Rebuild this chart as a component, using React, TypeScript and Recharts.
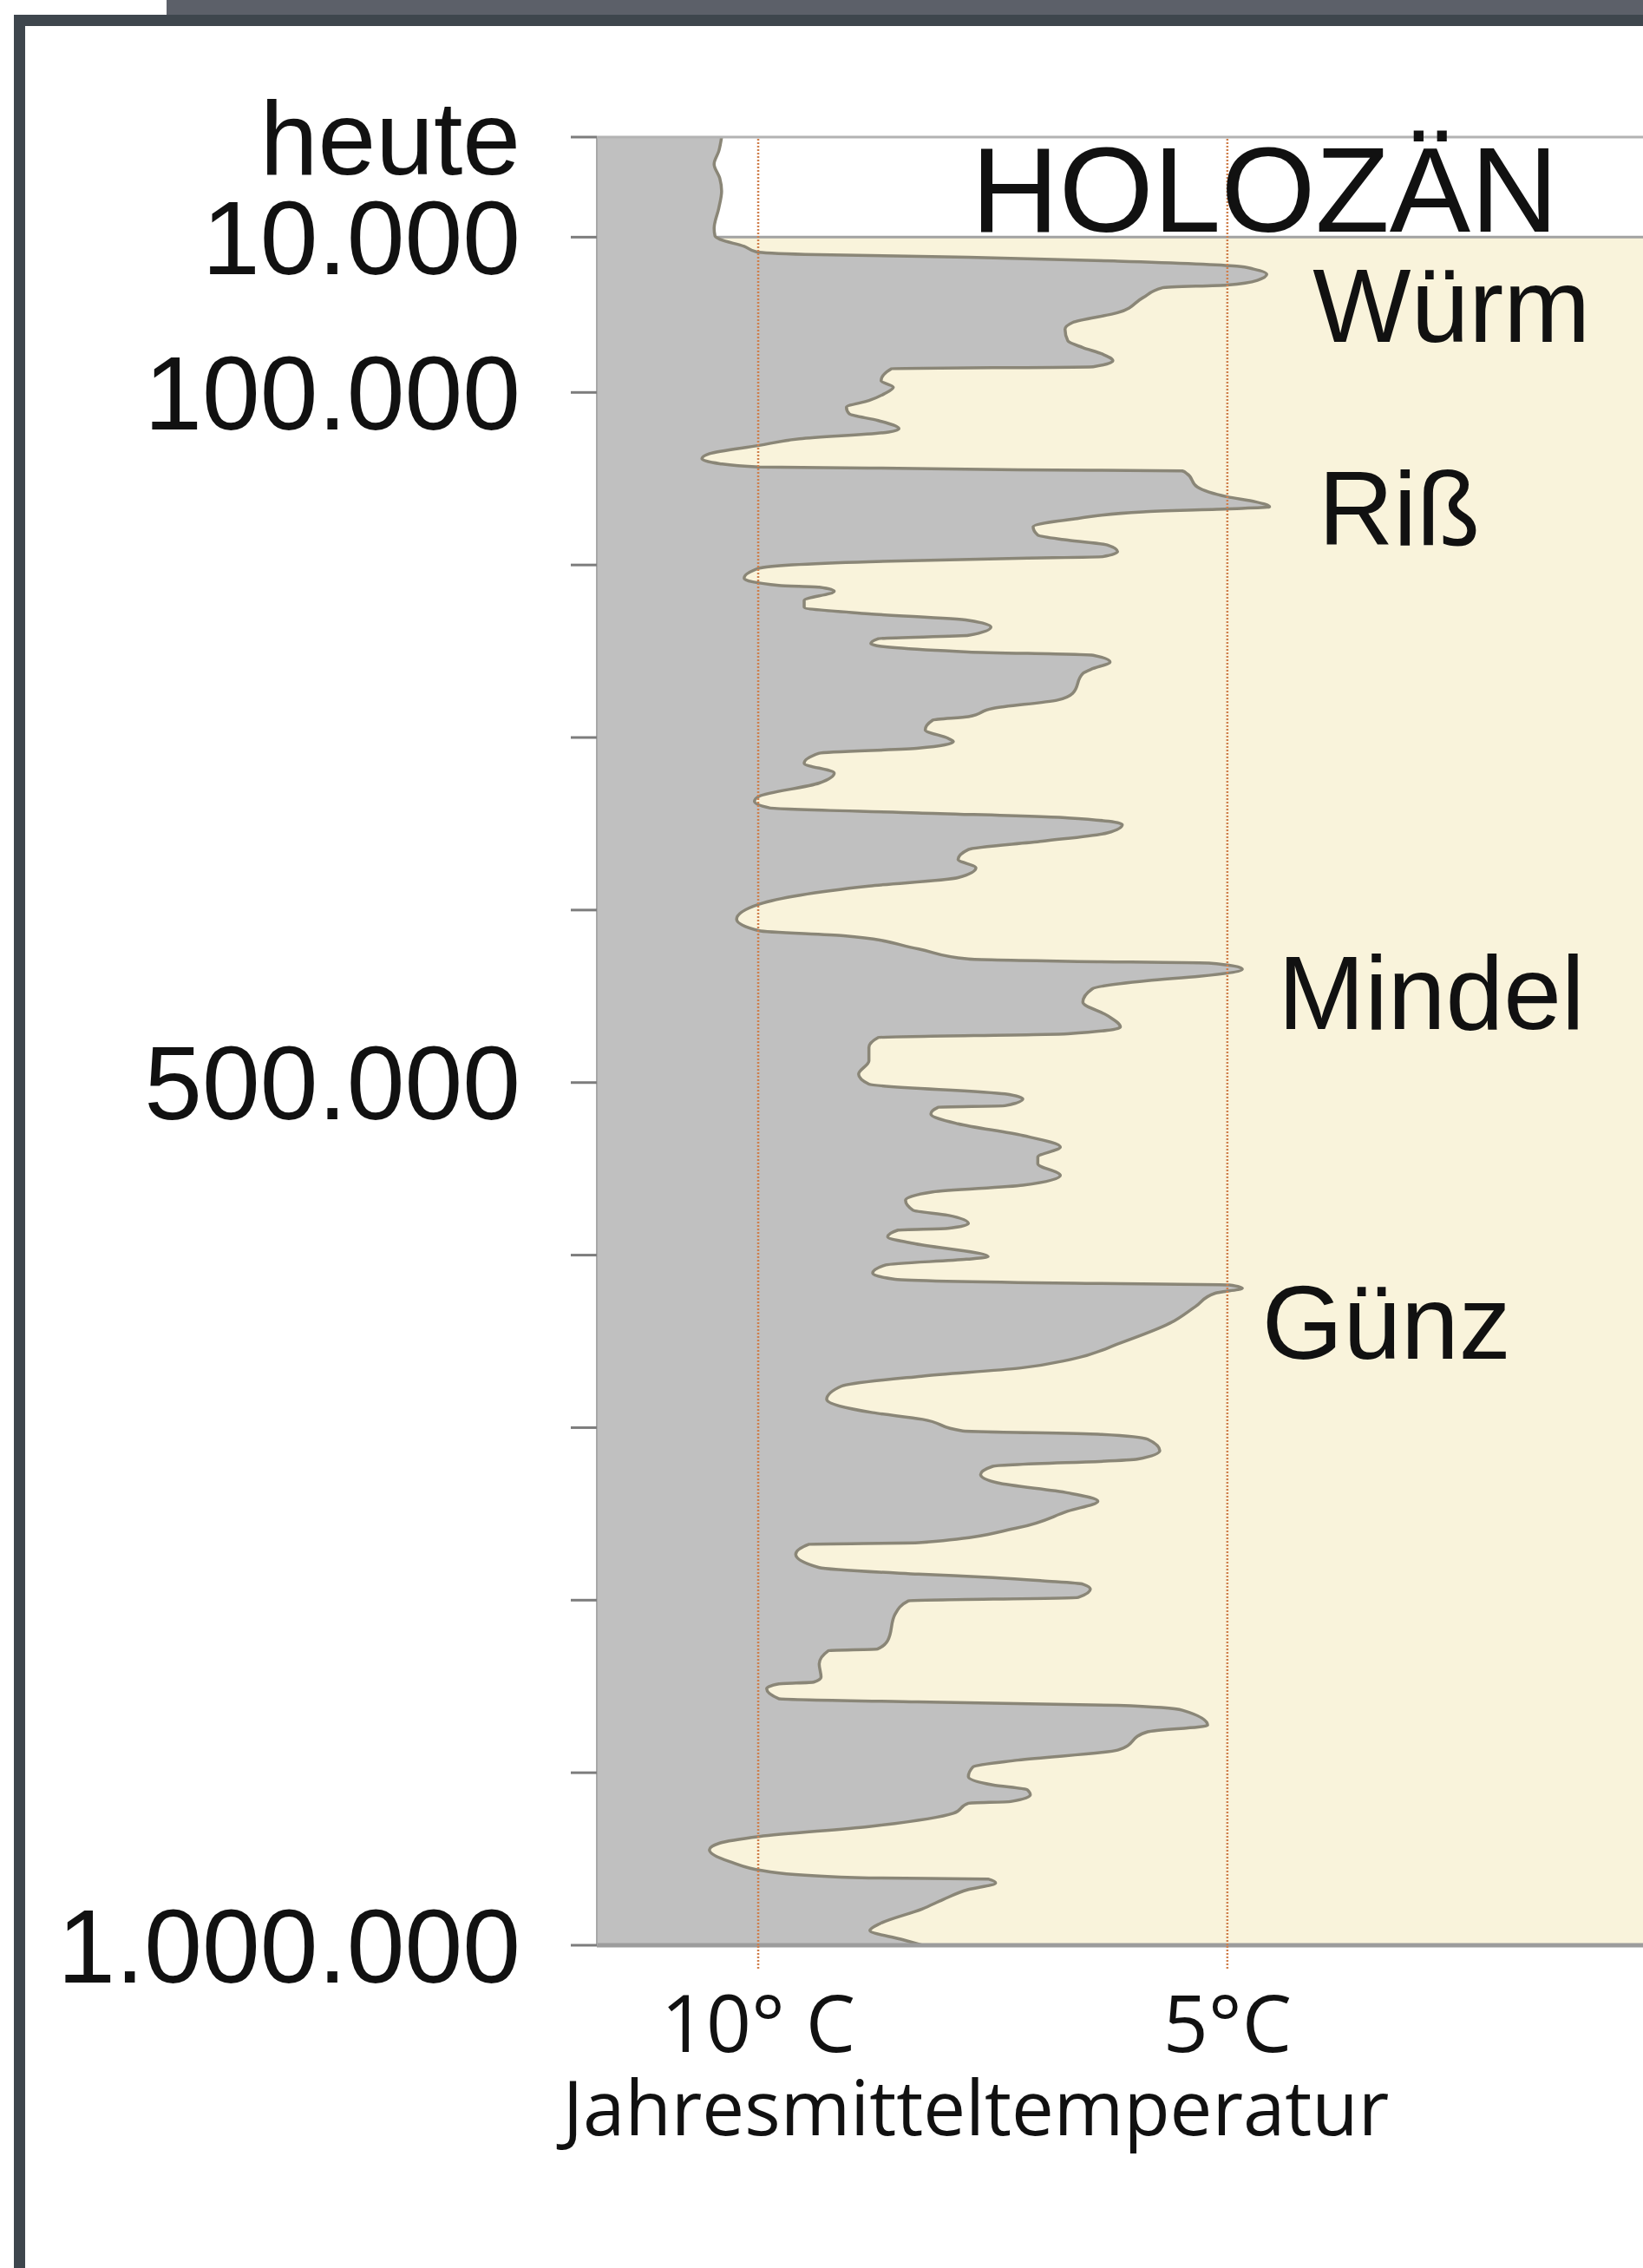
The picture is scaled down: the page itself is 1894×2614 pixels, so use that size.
import React from "react";
import {
  ComposedChart,
  Area,
  XAxis,
  YAxis,
  ReferenceArea,
  ReferenceLine,
  ReferenceDot,
} from "recharts";

// years before today
const ageYears = [
  0, 1400, 2700, 4100, 5400, 7100, 9100, 9900,
  11400, 15300, 18500, 20000, 21600, 23900, 26800, 28500, 31500, 35000, 37700, 39300,
  45100, 53800, 59500, 63400, 70100, 74000, 77800, 81700, 85100, 86300,
  93200, 97000, 100900, 104700, 108600, 112400, 116300, 121100, 123000, 126900,
  130700, 135500, 138400, 141300, 143200, 143800, 144800, 145500, 147100, 154800,
  160500, 163400, 166300, 167500, 169200, 173000, 177900, 182700, 185600, 188400,
  192300, 195200, 196100, 198100, 201900, 207700, 211900, 212900, 215200, 220600,
  224400, 228300, 232100, 236000, 240800, 242700, 245600, 250400, 252300, 256200,
  260000, 262900, 274500, 278300, 283100, 287900, 289900, 295600, 300400, 302400,
  306200, 309100, 314900, 320600, 326400, 334100, 337000, 340800, 343700, 346600,
  350500, 355300, 360100, 364900, 370700, 375500, 381200, 386100, 396600, 405300,
  412000, 414900, 422600, 428400, 429700, 430700, 434200, 438400, 440900, 445700,
  453400, 461100, 467800, 471700, 473900, 479700, 487400, 495100, 500900, 506600,
  509500, 513400, 514300, 518200, 523900, 530700, 537400, 543200, 547000, 553800,
  559500, 563400, 568200, 574000, 576900, 581700, 584500, 585500, 589400, 593200,
  600900, 602400, 605700, 610500, 614000, 616300, 617300, 619200, 622100, 629800,
  639400, 650900, 660500, 665400, 670200, 675900, 683600, 691300, 695200, 701900,
  703800, 706700, 713400, 718300, 722400, 727200, 732000, 737800, 742600, 748400,
  758000, 766700, 767600, 773400, 781100, 784900, 786900, 788800, 790700, 793600,
  798400, 800400, 808000, 823400, 828300, 829200, 836900, 844600, 847500, 848500,
  851300, 857100, 859000, 861000, 863800, 872500, 876300, 886900, 892700, 896600,
  902300, 907100, 910000, 912900, 916700, 917700, 923500, 931200, 937000, 940800,
  944700, 951400, 958100, 961000, 961600, 963900, 967700, 973500, 978900, 987400,
  991500, 996500, 1000000,
];

// Jahresmitteltemperatur in °C, same rows as ageYears
const meanTemp = [
  10.39, 10.42, 10.47, 10.41, 10.39, 10.42, 10.47, 10.46,
  10.4, 10.15, 10.02, 9.5, 7.76, 6.17, 4.9, 4.72, 4.58, 4.68, 5.0, 5.69,
  5.9, 6.17, 6.65, 6.73, 6.7, 6.54, 6.33, 6.22, 6.43, 8.58,
  8.69, 8.56, 8.66, 8.82, 9.06, 9.03, 8.72, 8.5, 8.61, 9.56,
  9.99, 10.52, 10.6, 10.41, 9.99, 8.82, 7.23, 5.48, 5.43, 5.32,
  5.0, 4.7, 4.55, 5.0, 5.9, 6.59, 7.07, 7.02, 6.7, 6.28,
  6.17, 6.33, 7.23, 8.82, 9.99, 10.15, 9.78, 9.35, 9.19, 9.51,
  9.51, 8.82, 7.76, 7.52, 7.76, 8.72, 8.8, 7.76, 6.43, 6.25,
  6.43, 6.54, 6.65, 6.81, 7.5, 7.76, 8.14, 8.22, 7.98, 7.92,
  8.29, 9.35, 9.51, 9.19, 9.35, 9.99, 10.04, 9.88, 8.3, 6.7,
  6.12, 6.28, 6.97, 7.76, 7.87, 7.68, 7.87, 8.82, 9.99, 10.23,
  9.99, 9.09, 8.29, 7.76, 6.7, 5.2, 4.84, 5.3, 5.85, 6.44,
  6.54, 6.28, 6.14, 6.7, 8.72, 8.82, 8.82, 8.93, 8.82, 7.37,
  7.18, 7.37, 8.08, 8.16, 7.87, 7.18, 6.78, 7.02, 7.02, 6.78,
  7.18, 8.14, 8.43, 8.35, 7.98, 7.76, 7.98, 8.51, 8.62, 8.35,
  7.55, 7.78, 8.64, 8.78, 8.54, 6.63, 4.98, 4.84, 5.13, 5.34,
  5.61, 6.14, 6.67, 7.2, 8.26, 9.11, 9.27, 8.78, 8.25, 7.82,
  6.38, 5.85, 5.72, 5.96, 7.5, 7.63, 7.45, 6.7, 6.38, 6.7,
  7.23, 8.29, 9.46, 9.6, 9.35, 8.29, 7.5, 6.97, 6.54, 6.46,
  6.59, 8.4, 8.54, 8.62, 8.73, 9.25, 9.35, 9.33, 9.41, 9.78,
  9.91, 9.78, 8.3, 6.17, 5.48, 5.21, 5.85, 6.17, 7.23, 7.71,
  7.76, 7.5, 7.13, 7.1, 7.31, 7.76, 7.92, 8.82, 9.99, 10.41,
  10.52, 10.31, 9.78, 8.82, 7.55, 7.47, 7.76, 8.03, 8.25, 8.7,
  8.81, 8.48, 8.25,
];

const yearTicks = [0, 10000, 100000, 200000, 300000, 400000, 500000, 600000, 700000, 800000, 900000, 1000000];
const yearTickLabels = ["heute", "10.000", "100.000", "", "", "", "500.000", "", "", "", "", "1.000.000"];

const tempTicks = [10, 5];
const tempTickLabels = ["10° C", "5°C"];

const periods = [
  { name: "HOLOZÄN", year: 5100, temp: 7.73, size: 140 },
  { name: "Würm", year: 49200, temp: 4.09, size: 120 },
  { name: "Riß", year: 166900, temp: 4.03, size: 120 },
  { name: "Mindel", year: 447400, temp: 4.46, size: 120 },
  { name: "Günz", year: 638500, temp: 4.63, size: 120 },
];

const HOLOCENE_END = 10000;
const OLDEST = 1000000;
const TEMP_LEFT = 11.72;
const TEMP_RIGHT = 0.57;

// the Holocene band is drawn stretched in the original figure
const HOLO_STRETCH = 5.8;
const depth = (yr: number) =>
  yr <= HOLOCENE_END ? yr * HOLO_STRETCH : HOLOCENE_END * HOLO_STRETCH + (yr - HOLOCENE_END);

const data = ageYears.map((y, i) => ({ depth: depth(y), temp: meanTemp[i] }));

const SANS = "'Liberation Sans', Arial, sans-serif";
const LABEL_FONT = "'Open Sans', 'Noto Sans', sans-serif";
const DOTTED = "#cf7f4c";

const yLabel = (v: number) => {
  const i = yearTicks.findIndex((t) => Math.abs(depth(t) - v) < 1);
  return i >= 0 ? yearTickLabels[i] : "";
};

const xLabel = (v: number) => {
  const i = tempTicks.indexOf(v);
  return i >= 0 ? tempTickLabels[i] : "";
};

const App = () => {
  return (
    <div
      style={{
        position: "absolute",
        left: 0,
        top: 0,
        width: 1894,
        height: 2614,
        overflow: "hidden",
        background: "#fff",
      }}
    >
      {/* page frame */}
      <div style={{ position: "absolute", left: 192, top: 0, width: 1702, height: 17, background: "#5c6069" }} />
      <div style={{ position: "absolute", left: 16, top: 17, width: 1878, height: 13, background: "#3e464d" }} />
      <div style={{ position: "absolute", left: 16, top: 17, width: 13, height: 2597, background: "#3e464d" }} />

      <div style={{ position: "absolute", left: 0, top: 0 }}>
        <ComposedChart
          layout="vertical"
          width={1894}
          height={2614}
          data={data}
          margin={{ top: 158, right: 0, bottom: 112, left: 0 }}
        >
          <ReferenceArea
            y1={depth(HOLOCENE_END)}
            y2={depth(OLDEST)}
            fill="#f9f3db"
            fillOpacity={1}
            stroke="none"
            zIndex={-60}
          />
          <ReferenceLine y={depth(HOLOCENE_END)} stroke="#a2a2a2" strokeWidth={3} zIndex={-50} />
          <XAxis
            type="number"
            domain={[TEMP_RIGHT, TEMP_LEFT]}
            reversed
            allowDataOverflow
            ticks={tempTicks}
            interval={0}
            tickFormatter={xLabel}
            height={260}
            tickSize={27}
            tickMargin={31}
            axisLine={{ stroke: "#9c9c9c", strokeWidth: 5 }}
            tickLine={{ stroke: DOTTED, strokeWidth: 2.5, strokeDasharray: "2 2" }}
            tick={{ fontSize: 91, fill: "#111", fontFamily: LABEL_FONT }}
            label={(props: any) => {
              const vb = props.viewBox || { x: 688, y: 2242 };
              return (
                <text
                  x={vb.x + 437}
                  y={vb.y + 219}
                  textAnchor="middle"
                  fontSize={87}
                  fontFamily={LABEL_FONT}
                  fill="#111"
                >
                  Jahresmitteltemperatur
                </text>
              );
            }}
          />
          <YAxis
            type="number"
            dataKey="depth"
            domain={[0, depth(OLDEST)]}
            allowDataOverflow
            ticks={yearTicks.map(depth)}
            interval={0}
            tickFormatter={yLabel}
            width={688}
            tickSize={30}
            tickMargin={58}
            axisLine={{ stroke: "#a8a8a8", strokeWidth: 2 }}
            tickLine={{ stroke: "#7d7d7d", strokeWidth: 3 }}
            tick={{ fontSize: 120, fill: "#111", fontFamily: SANS }}
          />
          <Area
            type="monotone"
            dataKey="temp"
            baseValue={TEMP_LEFT}
            fill="#c0c0c0"
            fillOpacity={1}
            stroke="#8a8677"
            strokeWidth={3.5}
            dot={false}
            activeDot={false}
            isAnimationActive={false}
          />
          {tempTicks.map((t) => (
            <ReferenceLine
              key={t}
              x={t}
              stroke={DOTTED}
              strokeWidth={2.5}
              strokeDasharray="2 2"
              zIndex={600}
            />
          ))}
          <ReferenceLine y={0} stroke="#b3b3b3" strokeWidth={3} zIndex={600} />
          {periods.map((p) => (
            <ReferenceDot
              key={p.name}
              x={p.temp}
              y={depth(p.year)}
              r={0}
              stroke="none"
              fill="none"
              zIndex={2000}
              label={{
                value: p.name,
                position: "right",
                offset: 0,
                fontSize: p.size,
                fill: "#111",
                fontFamily: SANS,
              }}
            />
          ))}
        </ComposedChart>
      </div>
    </div>
  );
};

export default App;
